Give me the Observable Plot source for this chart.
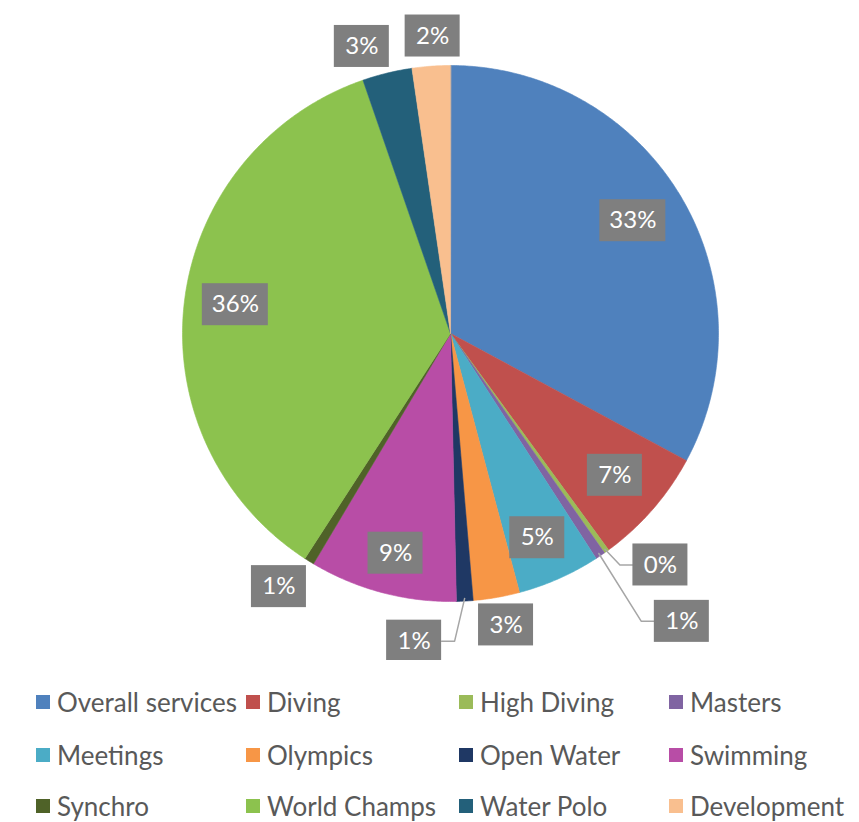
<!DOCTYPE html>
<html><head><meta charset="utf-8">
<script src="https://cdn.jsdelivr.net/npm/d3@7"></script>
<script src="https://cdn.jsdelivr.net/npm/@observablehq/plot@0.6"></script>
<style>
body{margin:0;background:#fff;font-family:Lato,"Open Sans",sans-serif}
#legend{position:relative;width:859px;height:162px}
.item{position:absolute;display:flex;align-items:center;height:28px;font-size:26px;color:#595959;white-space:nowrap}
.sw{width:14px;height:14px;margin-right:7px;flex:none}
</style></head><body><div id="chart"></div><div id="legend"></div>
<script>
// ---- data ----
const categories = ["Overall services","Diving","High Diving","Masters","Meetings","Olympics","Open Water","Swimming","Synchro","World Champs","Water Polo","Development"];
const shares = [32.9, 7.1, 0.3, 0.6, 5.0, 2.8, 1.0, 8.9, 0.6, 35.6, 3.0, 2.3];
const labels = ["33%","7%","0%","1%","5%","3%","1%","9%","1%","36%","3%","2%"];
const colors = ["#4F81BD","#C0504D","#9BBB59","#8064A2","#4BACC6","#F79646","#1F3864","#B84DA6","#4F6228","#8CC24E","#23607A","#F9BF8F"];

// ---- label layout (angle shift in degrees, radius as fraction of pie radius) ----
const labelShift = [-0.9, -0.3, -6.6, -4.8, 0.9, -0.9, 9.8, -0.7, 2.3, 0.7, -3.5, 0.7];
const labelRadius = [0.80, 0.81, 1.166, 1.378, 0.828, 1.107, 1.156, 0.845, 1.141, 0.81, 1.121, 1.112];
const leader = [false, false, true, true, false, false, true, false, false, false, false, false];

const R_PX = 268; // pie radius in px (matches scale range)
const px = 1 / R_PX;
const total = d3.sum(shares);
const rad = a => a * Math.PI / 180;

// slices
const slices = [];
const pts = [];
let acc = 0;
categories.forEach((c, i) => {
  const a0 = acc / total * 360;
  acc += shares[i];
  const a1 = acc / total * 360;
  slices.push({name: c, a0, a1, mid: (a0 + a1) / 2, label: labels[i], i});
  pts.push({name: c, x: 0, y: 0});
  const n = Math.max(2, Math.ceil((a1 - a0) / 0.5));
  for (let k = 0; k <= n; k++) {
    const a = rad(a0 + (a1 - a0) * k / n);
    pts.push({name: c, x: Math.sin(a), y: Math.cos(a)});
  }
});

// labels
const W3 = 66, W2 = 55, BH = 42;
const lab = slices.map(s => {
  const a = rad(s.mid + labelShift[s.i]);
  const r = labelRadius[s.i];
  const w = s.label.length === 3 ? W3 : W2;
  return {...s, x: r * Math.sin(a), y: r * Math.cos(a), w};
});

// leader lines
const leaders = [];
lab.forEach(l => {
  if (!leader[l.i]) return;
  const a = rad(l.mid);
  const sx = Math.sin(a), sy = Math.cos(a);
  const side = l.x > sx ? -1 : 1;
  const edgeX = l.x + side * (l.w / 2) * px;
  const elbowX = edgeX + side * 13 * px;
  leaders.push({g: l.i, x: sx * 0.99, y: sy * 0.99});
  leaders.push({g: l.i, x: elbowX, y: l.y});
  leaders.push({g: l.i, x: edgeX, y: l.y});
});

const box = w => ({x1: "x", x2: "x", y1: "y", y2: "y", fill: "#7F7F7F",
  insetLeft: -w / 2, insetRight: -w / 2, insetTop: -BH / 2, insetBottom: -BH / 2});

const chart = Plot.plot({
  width: 859,
  height: 660,
  marginLeft: 182,
  marginRight: 141,
  marginTop: 65,
  marginBottom: 59,
  x: {domain: [-1, 1], axis: null},
  y: {domain: [-1, 1], axis: null},
  color: {domain: categories, range: colors},
  marks: [
    Plot.line(pts, {x: "x", y: "y", z: "name", fill: "name", stroke: "name", strokeWidth: 0.6, curve: "linear-closed"}),
    Plot.line(leaders, {x: "x", y: "y", z: "g", stroke: "#A6A6A6", strokeWidth: 1.5}),
    Plot.rect(lab.filter(d => d.w === W3), box(W3)),
    Plot.rect(lab.filter(d => d.w === W2), box(W2)),
    Plot.text(lab, {x: "x", y: "y", text: "label", fill: "white", fontSize: 24, fontFamily: "Lato, sans-serif"})
  ]
});
document.getElementById("chart").append(chart);

// legend
const legend = document.getElementById("legend");
const colX = [36, 246, 459, 669];
const rowY = [28, 81, 132];
categories.forEach((c, i) => {
  const d = document.createElement("div");
  d.className = "item";
  d.style.left = colX[i % 4] + "px";
  d.style.top = (rowY[Math.floor(i / 4)]) + "px";
  d.innerHTML = `<span class="sw" style="background:${colors[i]}"></span><span>${c}</span>`;
  legend.append(d);
});
</script>
</body></html>
